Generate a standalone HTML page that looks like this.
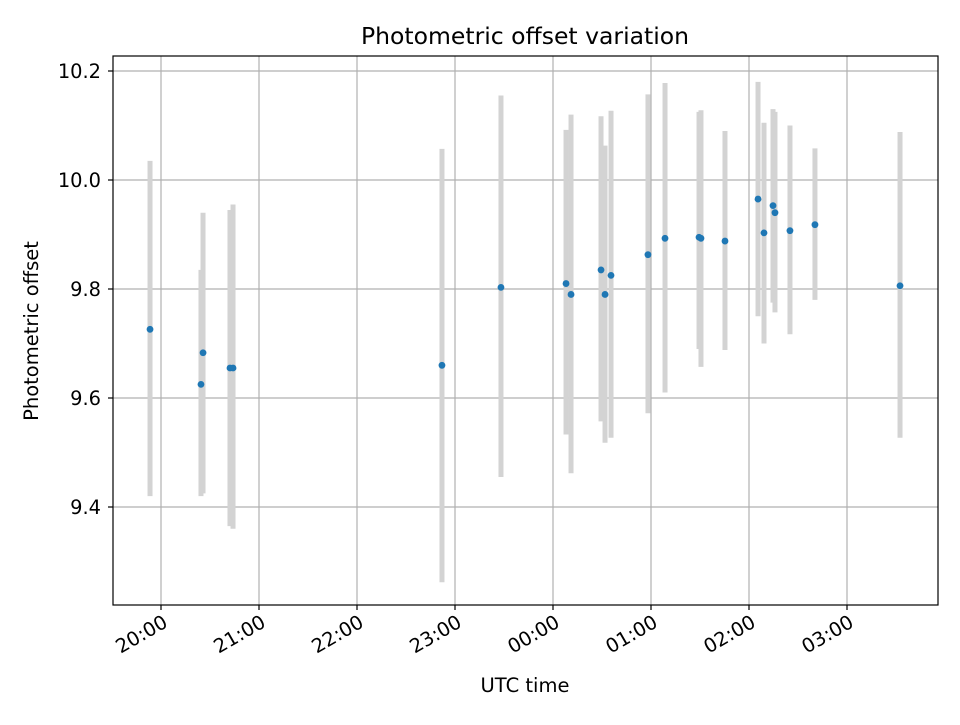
<!DOCTYPE html>
<html><head><meta charset="utf-8"><style>
html,body{margin:0;padding:0;background:#fff;}
svg text{font-family:"DejaVu Sans","Liberation Sans",sans-serif;fill:#000;}
</style></head><body>
<svg id="chart" width="960" height="720" xmlns="http://www.w3.org/2000/svg">
<rect width="960" height="720" fill="#fff"/>
<g id="grid"></g><g id="marks"></g><g id="axes"></g>
<text x="525" y="44" style="font-size:23.5px" text-anchor="middle">Photometric offset variation</text>
<text x="525" y="692" style="font-size:19.5px" text-anchor="middle">UTC time</text>
<text transform="translate(38,331) rotate(-90)" style="font-size:19.5px" text-anchor="middle">Photometric offset</text>
</svg>
<script>
// hours after 20:00 UTC
const times = [-0.112,0.408,0.429,0.704,0.735,2.867,3.469,4.133,4.184,4.49,4.531,4.592,4.969,5.143,5.49,5.51,5.755,6.092,6.153,6.245,6.265,6.418,6.673,7.541];
const values = [9.726,9.625,9.683,9.655,9.655,9.66,9.803,9.81,9.79,9.835,9.79,9.825,9.863,9.893,9.895,9.893,9.888,9.965,9.903,9.953,9.94,9.907,9.918,9.806];
const errLow = [9.42,9.42,9.425,9.365,9.36,9.262,9.455,9.533,9.462,9.557,9.518,9.527,9.572,9.61,9.69,9.657,9.688,9.75,9.70,9.775,9.757,9.717,9.78,9.527];
const errHigh = [10.035,9.835,9.94,9.945,9.955,10.057,10.155,10.092,10.12,10.117,10.063,10.127,10.157,10.178,10.125,10.128,10.09,10.18,10.105,10.13,10.125,10.1,10.058,10.088];
const yTicks = [9.4,9.6,9.8,10.0,10.2];
const yTickLabels = ["9.4","9.6","9.8","10.0","10.2"];
const xTicks = [0,1,2,3,4,5,6,7];
const xTickLabels = ["20:00","21:00","22:00","23:00","00:00","01:00","02:00","03:00"];

const L=113,R=938,T=56,B=605;
const xS=h=>161+98*h;
const yS=v=>180-(v-10)*545;
const NS="http://www.w3.org/2000/svg";
function mk(tag,attrs,parent){const e=document.createElementNS(NS,tag);for(const k in attrs)e.setAttribute(k,attrs[k]);parent.appendChild(e);return e;}
const grid=document.getElementById('grid'),marks=document.getElementById('marks'),axes=document.getElementById('axes');
xTicks.forEach((t,i)=>{
  const x=xS(t);
  const g=mk('line',{x1:x,x2:x,y1:T,y2:B,stroke:'#b0b0b0','stroke-width':1.2},grid);
  
  
  const tk=mk('line',{x1:x,x2:x,y1:B,y2:B+5,stroke:'#000','stroke-width':1.2},axes);
  
  
  const tx=mk('text',{x:x+4,y:B+22,style:'font-size:19.4px','text-anchor':'end',transform:`rotate(-30 ${x+4} ${B+14})`},axes);
  tx.textContent=xTickLabels[i];
  
  
});
yTicks.forEach((t,i)=>{
  const y=yS(t);
  const g=mk('line',{x1:L,x2:R,y1:y,y2:y,stroke:'#b0b0b0','stroke-width':1.2},grid);
  
  
  const tk=mk('line',{x1:L-5,x2:L,y1:y,y2:y,stroke:'#000','stroke-width':1.2},axes);
  
  
  const tx=mk('text',{x:L-12,y:y+7,style:'font-size:19.4px','text-anchor':'end'},axes);
  tx.textContent=yTickLabels[i];
  
  
});
times.forEach((t,i)=>{
  const x=xS(t);
  const e=mk('line',{x1:x,x2:x,y1:yS(errLow[i]),y2:yS(errHigh[i]),stroke:'#d3d3d3','stroke-width':5},marks);
  
  
});
times.forEach((t,i)=>{
  const p=mk('circle',{cx:xS(t),cy:yS(values[i]),r:3.4,fill:'#1f77b4'},marks);
  
  
});
const f=mk('rect',{x:L,y:T,width:R-L,height:B-T,fill:'none',stroke:'#000','stroke-width':1.2},axes);


</script>
</body></html>
